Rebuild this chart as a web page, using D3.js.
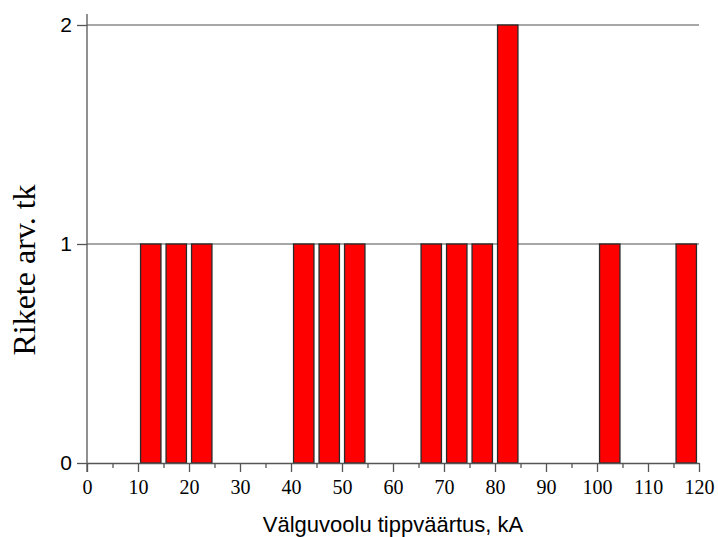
<!DOCTYPE html>
<html>
<head>
<meta charset="utf-8">
<script src="https://cdn.jsdelivr.net/npm/d3@7"></script>
<style>
  body { margin: 0; background: #fff; }
  svg { display: block; }
</style>
</head>
<body>
<svg id="chart" width="718" height="537"></svg>
<script>
// Bin start (kA), each bin 5 kA wide
const binStarts = [10, 15, 20, 40, 45, 50, 65, 70, 75, 80, 100, 115];
const counts = [1, 1, 1, 1, 1, 1, 1, 1, 1, 2, 1, 1];
const binWidth = 5;
const xTicks = [0, 10, 20, 30, 40, 50, 60, 70, 80, 90, 100, 110, 120];
const xMinorTicks = [5, 15, 25, 35, 45, 55, 65, 75, 85, 95, 105, 115];
const yTicks = [0, 1, 2];
const xTitle = 'Välguvoolu tippväärtus, kA';
const yTitle = 'Rikete arv. tk';

const svg = d3.select('#chart');

// Layout
const layout = { left: 87, right: 699, top: 25, bottom: 463 };

const x = d3.scaleLinear().domain([0, 120]).range([layout.left, layout.right]);
const y = d3.scaleLinear().domain([0, 2]).range([layout.bottom, layout.top]);

// Gridlines
svg.append('g')
  .selectAll('line')
  .data(yTicks.filter(d => d > 0))
  .join('line')
  .attr('x1', x(0)).attr('x2', x(120))
  .attr('y1', d => y(d)).attr('y2', d => y(d))
  .attr('stroke', '#8a8a8a')
  .attr('stroke-width', 1.3);

// Bars
const bars = binStarts.map((b, i) => ({ start: b, count: counts[i] }));
svg.append('g')
  .selectAll('rect')
  .data(bars)
  .join('rect')
  .attr('x', d => x(d.start + 0.5))
  .attr('width', d => x(d.start + binWidth - 0.5) - x(d.start + 0.5))
  .attr('y', d => y(d.count))
  .attr('height', d => y(0) - y(d.count))
  .attr('fill', '#ff0000')
  .attr('stroke', '#2a2a2a')
  .attr('stroke-width', 1.3);

// X axis (major)
const xAxis = svg.append('g')
  .attr('transform', `translate(0,${y(0)})`)
  .call(d3.axisBottom(x).tickValues(xTicks).tickSize(9).tickPadding(8).tickSizeOuter(0));
xAxis.select('.domain').attr('stroke', '#555').attr('stroke-width', 1.3);
xAxis.selectAll('.tick line').attr('stroke', '#555').attr('stroke-width', 1.3);
xAxis.selectAll('.tick text')
  .attr('font-family', '"Liberation Serif", "Times New Roman", serif')
  .attr('font-size', 20)
  .attr('fill', '#000');

// X axis (minor)
svg.append('g')
  .attr('transform', `translate(0,${y(0)})`)
  .call(d3.axisBottom(x).tickValues(xMinorTicks).tickSize(5).tickFormat(''))
  .call(g => g.select('.domain').remove())
  .selectAll('.tick line').attr('stroke', '#555').attr('stroke-width', 1.3);

// Y axis
const yAxis = svg.append('g')
  .attr('transform', `translate(${x(0)},0)`)
  .call(d3.axisLeft(y).tickValues(yTicks).tickFormat(d3.format('d')).tickSize(10).tickPadding(5).tickSizeOuter(0));
yAxis.select('.domain').remove();
yAxis.append('line')
  .attr('x1', 0).attr('x2', 0)
  .attr('y1', y(0) + 9).attr('y2', y(2.05))
  .attr('stroke', '#555').attr('stroke-width', 1.3);
yAxis.selectAll('.tick line').attr('stroke', '#555').attr('stroke-width', 1.3);
yAxis.selectAll('.tick text')
  .attr('font-family', '"Liberation Sans", Arial, sans-serif')
  .attr('font-size', 21)
  .attr('fill', '#000');

// Axis titles
svg.append('text')
  .attr('x', (layout.left + layout.right) / 2)
  .attr('y', 532)
  .attr('text-anchor', 'middle')
  .attr('font-family', '"Liberation Sans", Arial, sans-serif')
  .attr('font-size', 22)
  .text(xTitle);

svg.append('text')
  .attr('transform', `translate(35,270) rotate(-90)`)
  .attr('text-anchor', 'middle')
  .attr('font-family', '"Liberation Serif", "Times New Roman", serif')
  .attr('font-size', 32)
  .text(yTitle);
</script>
</body>
</html>
